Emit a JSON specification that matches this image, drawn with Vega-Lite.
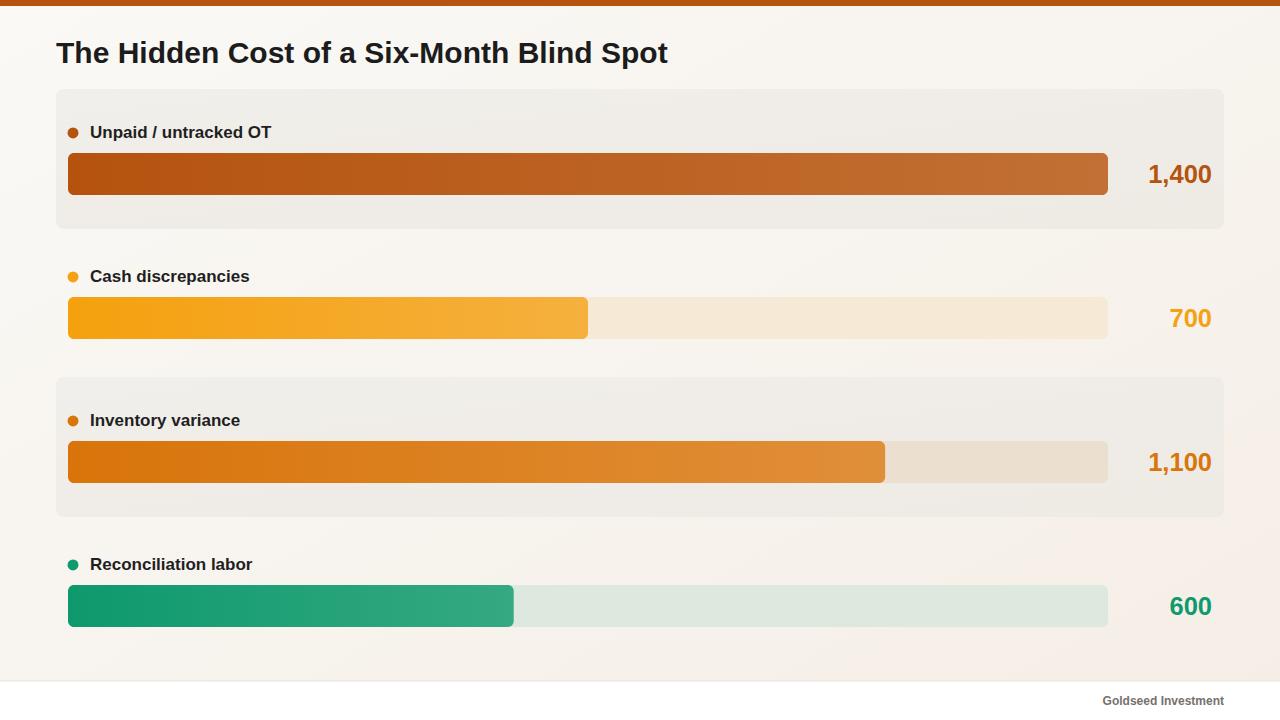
{
  "$schema": "https://vega.github.io/schema/vega-lite/v6.json",
  "width": 1280,
  "height": 720,
  "autosize": "none",
  "padding": 0,
  "background": "#f8f5f0",
  "config": {"view": {"stroke": null}, "font": "Liberation Sans"},
  "title": {
    "text": "The Hidden Cost of a Six-Month Blind Spot",
    "anchor": "start",
    "frame": "group",
    "font": "Liberation Sans",
    "fontSize": 30,
    "fontWeight": "bold",
    "color": "#1c1c1c",
    "offset": 0,
    "dx": 56,
    "dy": 69
  },
  "data": {
    "values": [
      {"category": "Unpaid / untracked OT", "value": 1400, "rank": 1},
      {"category": "Cash discrepancies", "value": 700, "rank": 2},
      {"category": "Inventory variance", "value": 1100, "rank": 3},
      {"category": "Reconciliation labor", "value": 600, "rank": 4}
    ]
  },
  "encoding": {
    "y": {"field": "rank", "type": "quantitative", "scale": {"domain": [-0.2083, 4.7917], "reverse": true, "nice": false, "zero": false, "padding": 0}, "axis": null}
  },
  "layer": [
    {
      "transform": [{"filter": "datum.rank == 1"}],
      "mark": {"type": "rect", "fill": {"gradient": "linear", "x1": 0, "y1": 0, "x2": 1, "y2": 1, "stops": [{"offset": 0, "color": "#faf9f6"}, {"offset": 1, "color": "#f5eee6"}]}},
      "encoding": {
        "x": {"datum": -91.54, "type": "quantitative", "scale": {"domain": [-91.54, 1631.54], "nice": false, "zero": false, "padding": 0}, "axis": null},
        "x2": {"datum": 1631.54},
        "y": {"datum": -0.2083, "type": "quantitative"},
        "y2": {"datum": 4.7917}
      }
    },
    {
      "transform": [{"filter": "datum.rank == 1"}],
      "mark": {"type": "rect", "fill": "#b5540f"},
      "encoding": {
        "x": {"datum": -91.54, "type": "quantitative"},
        "x2": {"datum": 1631.54},
        "y": {"datum": -0.2083, "type": "quantitative"},
        "y2": {"datum": -0.1667}
      }
    },
    {
      "transform": [{"filter": "datum.rank == 1"}],
      "mark": {"type": "rect", "fill": "#ffffff"},
      "encoding": {
        "x": {"datum": -91.54, "type": "quantitative"},
        "x2": {"datum": 1631.54},
        "y": {"datum": 4.5208, "type": "quantitative"},
        "y2": {"datum": 4.7917}
      }
    },
    {
      "transform": [{"filter": "datum.rank == 1"}],
      "mark": {"type": "rule", "stroke": "#e6e1da", "strokeWidth": 1},
      "encoding": {
        "x": {"datum": -91.54, "type": "quantitative"},
        "x2": {"datum": 1631.54},
        "y": {"datum": 4.5208, "type": "quantitative"}
      }
    },
    {
      "transform": [{"filter": "datum.rank == 1"}],
      "mark": {"type": "text", "text": "Goldseed Investment", "align": "right", "baseline": "middle", "font": "Liberation Sans", "fontSize": 12, "fontWeight": "bold", "fill": "#77716b"},
      "encoding": {
        "x": {"datum": 1556.15, "type": "quantitative"},
        "y": {"datum": 4.6597, "type": "quantitative"}
      }
    },
    {
      "transform": [{"filter": "datum.rank % 2 == 1"}],
      "mark": {"type": "bar", "orient": "horizontal", "size": 140, "yOffset": -15, "cornerRadius": 8, "fill": {"gradient": "linear", "x1": 0, "y1": 0, "x2": 1, "y2": 1, "stops": [{"offset": 0, "color": "#f1efeb"}, {"offset": 1, "color": "#eeeae4"}]}},
      "encoding": {
        "x": {"datum": -16.15, "type": "quantitative"},
        "x2": {"datum": 1556.15}
      }
    },
    {
      "mark": {"type": "bar", "orient": "horizontal", "size": 42, "cornerRadius": 6},
      "encoding": {
        "x": {"datum": 0, "type": "quantitative"},
        "x2": {"datum": 1400},
        "fill": {"field": "category", "type": "nominal", "legend": null, "scale": {"domain": ["Unpaid / untracked OT", "Cash discrepancies", "Inventory variance", "Reconciliation labor"], "range": ["#ece5dc", "#f6e9d6", "#ebdfcf", "#dde8de"]}}
      }
    },
    {
      "transform": [{"filter": "datum.rank == 1"}],
      "mark": {"type": "bar", "orient": "horizontal", "size": 42, "cornerRadius": 6, "fill": {"gradient": "linear", "x1": 0, "y1": 0, "x2": 1, "y2": 0, "stops": [{"offset": 0, "color": "#b5530e"}, {"offset": 1, "color": "#c27035"}]}},
      "encoding": {"x": {"field": "value", "type": "quantitative"}, "x2": {"datum": 0}}
    },
    {
      "transform": [{"filter": "datum.rank == 2"}],
      "mark": {"type": "bar", "orient": "horizontal", "size": 42, "cornerRadius": 6, "fill": {"gradient": "linear", "x1": 0, "y1": 0, "x2": 1, "y2": 0, "stops": [{"offset": 0, "color": "#f5a10e"}, {"offset": 1, "color": "#f5b03e"}]}},
      "encoding": {"x": {"field": "value", "type": "quantitative"}, "x2": {"datum": 0}}
    },
    {
      "transform": [{"filter": "datum.rank == 3"}],
      "mark": {"type": "bar", "orient": "horizontal", "size": 42, "cornerRadius": 6, "fill": {"gradient": "linear", "x1": 0, "y1": 0, "x2": 1, "y2": 0, "stops": [{"offset": 0, "color": "#d8740a"}, {"offset": 1, "color": "#e08f39"}]}},
      "encoding": {"x": {"field": "value", "type": "quantitative"}, "x2": {"datum": 0}}
    },
    {
      "transform": [{"filter": "datum.rank == 4"}],
      "mark": {"type": "bar", "orient": "horizontal", "size": 42, "cornerRadius": 6, "fill": {"gradient": "linear", "x1": 0, "y1": 0, "x2": 1, "y2": 0, "stops": [{"offset": 0, "color": "#0e996d"}, {"offset": 1, "color": "#35a981"}]}},
      "encoding": {"x": {"field": "value", "type": "quantitative"}, "x2": {"datum": 0}}
    },
    {
      "mark": {"type": "circle", "size": 120, "opacity": 1, "yOffset": -41},
      "encoding": {
        "x": {"datum": 6.73, "type": "quantitative"},
        "color": {"field": "category", "type": "nominal", "legend": null, "scale": {"domain": ["Unpaid / untracked OT", "Cash discrepancies", "Inventory variance", "Reconciliation labor"], "range": ["#b5540f", "#f4a114", "#d9750b", "#0e9a6e"]}}
      }
    },
    {
      "mark": {"type": "text", "align": "left", "baseline": "middle", "yOffset": -41, "font": "Liberation Sans", "fontSize": 17, "fontWeight": "bold", "fill": "#1f1f1f"},
      "encoding": {
        "x": {"datum": 29.6, "type": "quantitative"},
        "text": {"field": "category", "type": "nominal"}
      }
    },
    {
      "mark": {"type": "text", "align": "right", "baseline": "middle", "yOffset": 1, "font": "Liberation Sans", "fontSize": 25.5, "fontWeight": "bold"},
      "encoding": {
        "x": {"datum": 1540, "type": "quantitative"},
        "text": {"field": "value", "type": "quantitative", "format": ","},
        "color": {"field": "category", "type": "nominal", "legend": null}
      }
    }
  ]
}
